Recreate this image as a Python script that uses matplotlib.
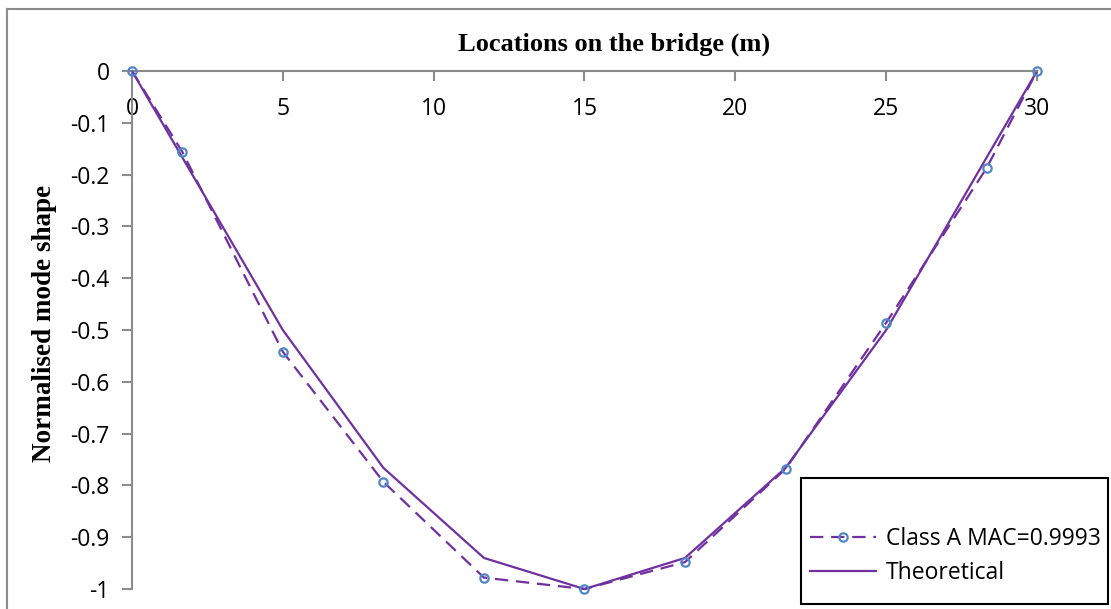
import matplotlib.pyplot as plt
from matplotlib.lines import Line2D
from matplotlib.patches import Rectangle

# locations along the span (m)
x_meas = [0, 1.667, 5, 8.333, 11.667, 15, 18.333, 21.667, 25, 28.333, 30]
y_meas = [0, -0.156, -0.542, -0.793, -0.978, -1.0, -0.948, -0.768, -0.486, -0.187, 0]

x_theo = [0, 5, 8.333, 11.667, 15, 18.333, 21.667, 25, 30]
y_theo = [0, -0.5, -0.766, -0.940, -1.0, -0.940, -0.766, -0.5, 0]

xticks = [0, 5, 10, 15, 20, 25, 30]
yticks = [0, -0.1, -0.2, -0.3, -0.4, -0.5, -0.6, -0.7, -0.8, -0.9, -1]
ytick_labels = ['0', '-0.1', '-0.2', '-0.3', '-0.4', '-0.5', '-0.6', '-0.7', '-0.8', '-0.9', '-1']

purple = '#7030A0'
blue = '#4F86C6'
grey = '#8C8C8C'

plt.rcParams['font.family'] = ['Open Sans', 'DejaVu Sans']

fig = plt.figure(figsize=(11.11, 6.09), dpi=100)
ax = fig.add_axes([0.1188, 0.0328, 0.8146, 0.8506])

ax.plot(x_meas, y_meas, color=purple, linewidth=1.6, linestyle=(0, (6, 3.5)),
        marker='o', markersize=6, markerfacecolor='none', markeredgecolor=blue,
        markeredgewidth=1.6, clip_on=False, label='Class A MAC=0.9993', zorder=3)
ax.plot(x_theo, y_theo, color=purple, linewidth=1.6, clip_on=False,
        label='Theoretical', zorder=2)

ax.set_xlim(0, 30)
ax.set_ylim(-1, 0)

# x axis sits at y=0 (top), ticks point into the plot
ax.spines['right'].set_visible(False)
ax.spines['bottom'].set_visible(False)
ax.spines['top'].set_color(grey)
ax.spines['left'].set_color(grey)
ax.spines['top'].set_linewidth(1.5)
ax.spines['left'].set_linewidth(1.5)
ax.xaxis.set_ticks_position('top')
ax.set_xticks(xticks)
ax.tick_params(axis='x', direction='in', length=7, width=1.5, color=grey,
               labeltop=True, labelbottom=False, labelsize=16.5, pad=-36)
ax.set_yticks(yticks)
ax.set_yticklabels(ytick_labels)
ax.tick_params(axis='y', direction='out', length=7, width=1.5, color=grey,
               labelsize=16.5, pad=9)

fig.text(0.553, 0.928, 'Locations on the bridge (m)', ha='center', va='center',
         fontsize=19, fontweight='bold', family='Liberation Serif')
fig.text(0.040, 0.469, 'Normalised mode shape', ha='center', va='center',
         rotation=90, fontsize=19.5, fontweight='bold', family='Liberation Serif')

# legend entries without frame, box drawn separately
leg = ax.legend(loc='lower left', bbox_to_anchor=(0.729, 0.040),
                bbox_transform=fig.transFigure, borderaxespad=0, borderpad=0,
                frameon=False, fontsize=16.5, handlelength=2.9,
                labelspacing=0.42, handletextpad=0.4)
fig.add_artist(Rectangle((0.721, 0.0082), 0.2763, 0.2069, transform=fig.transFigure,
                         facecolor='none', edgecolor='black', linewidth=1.5))

# chart area border (left and top edges)
fig.add_artist(Line2D([0.0063, 0.0063], [0, 0.986], color=grey, linewidth=1.5))
fig.add_artist(Line2D([0.0063, 1.0], [0.986, 0.986], color=grey, linewidth=1.5))

fig.savefig('out.png', dpi=100)
